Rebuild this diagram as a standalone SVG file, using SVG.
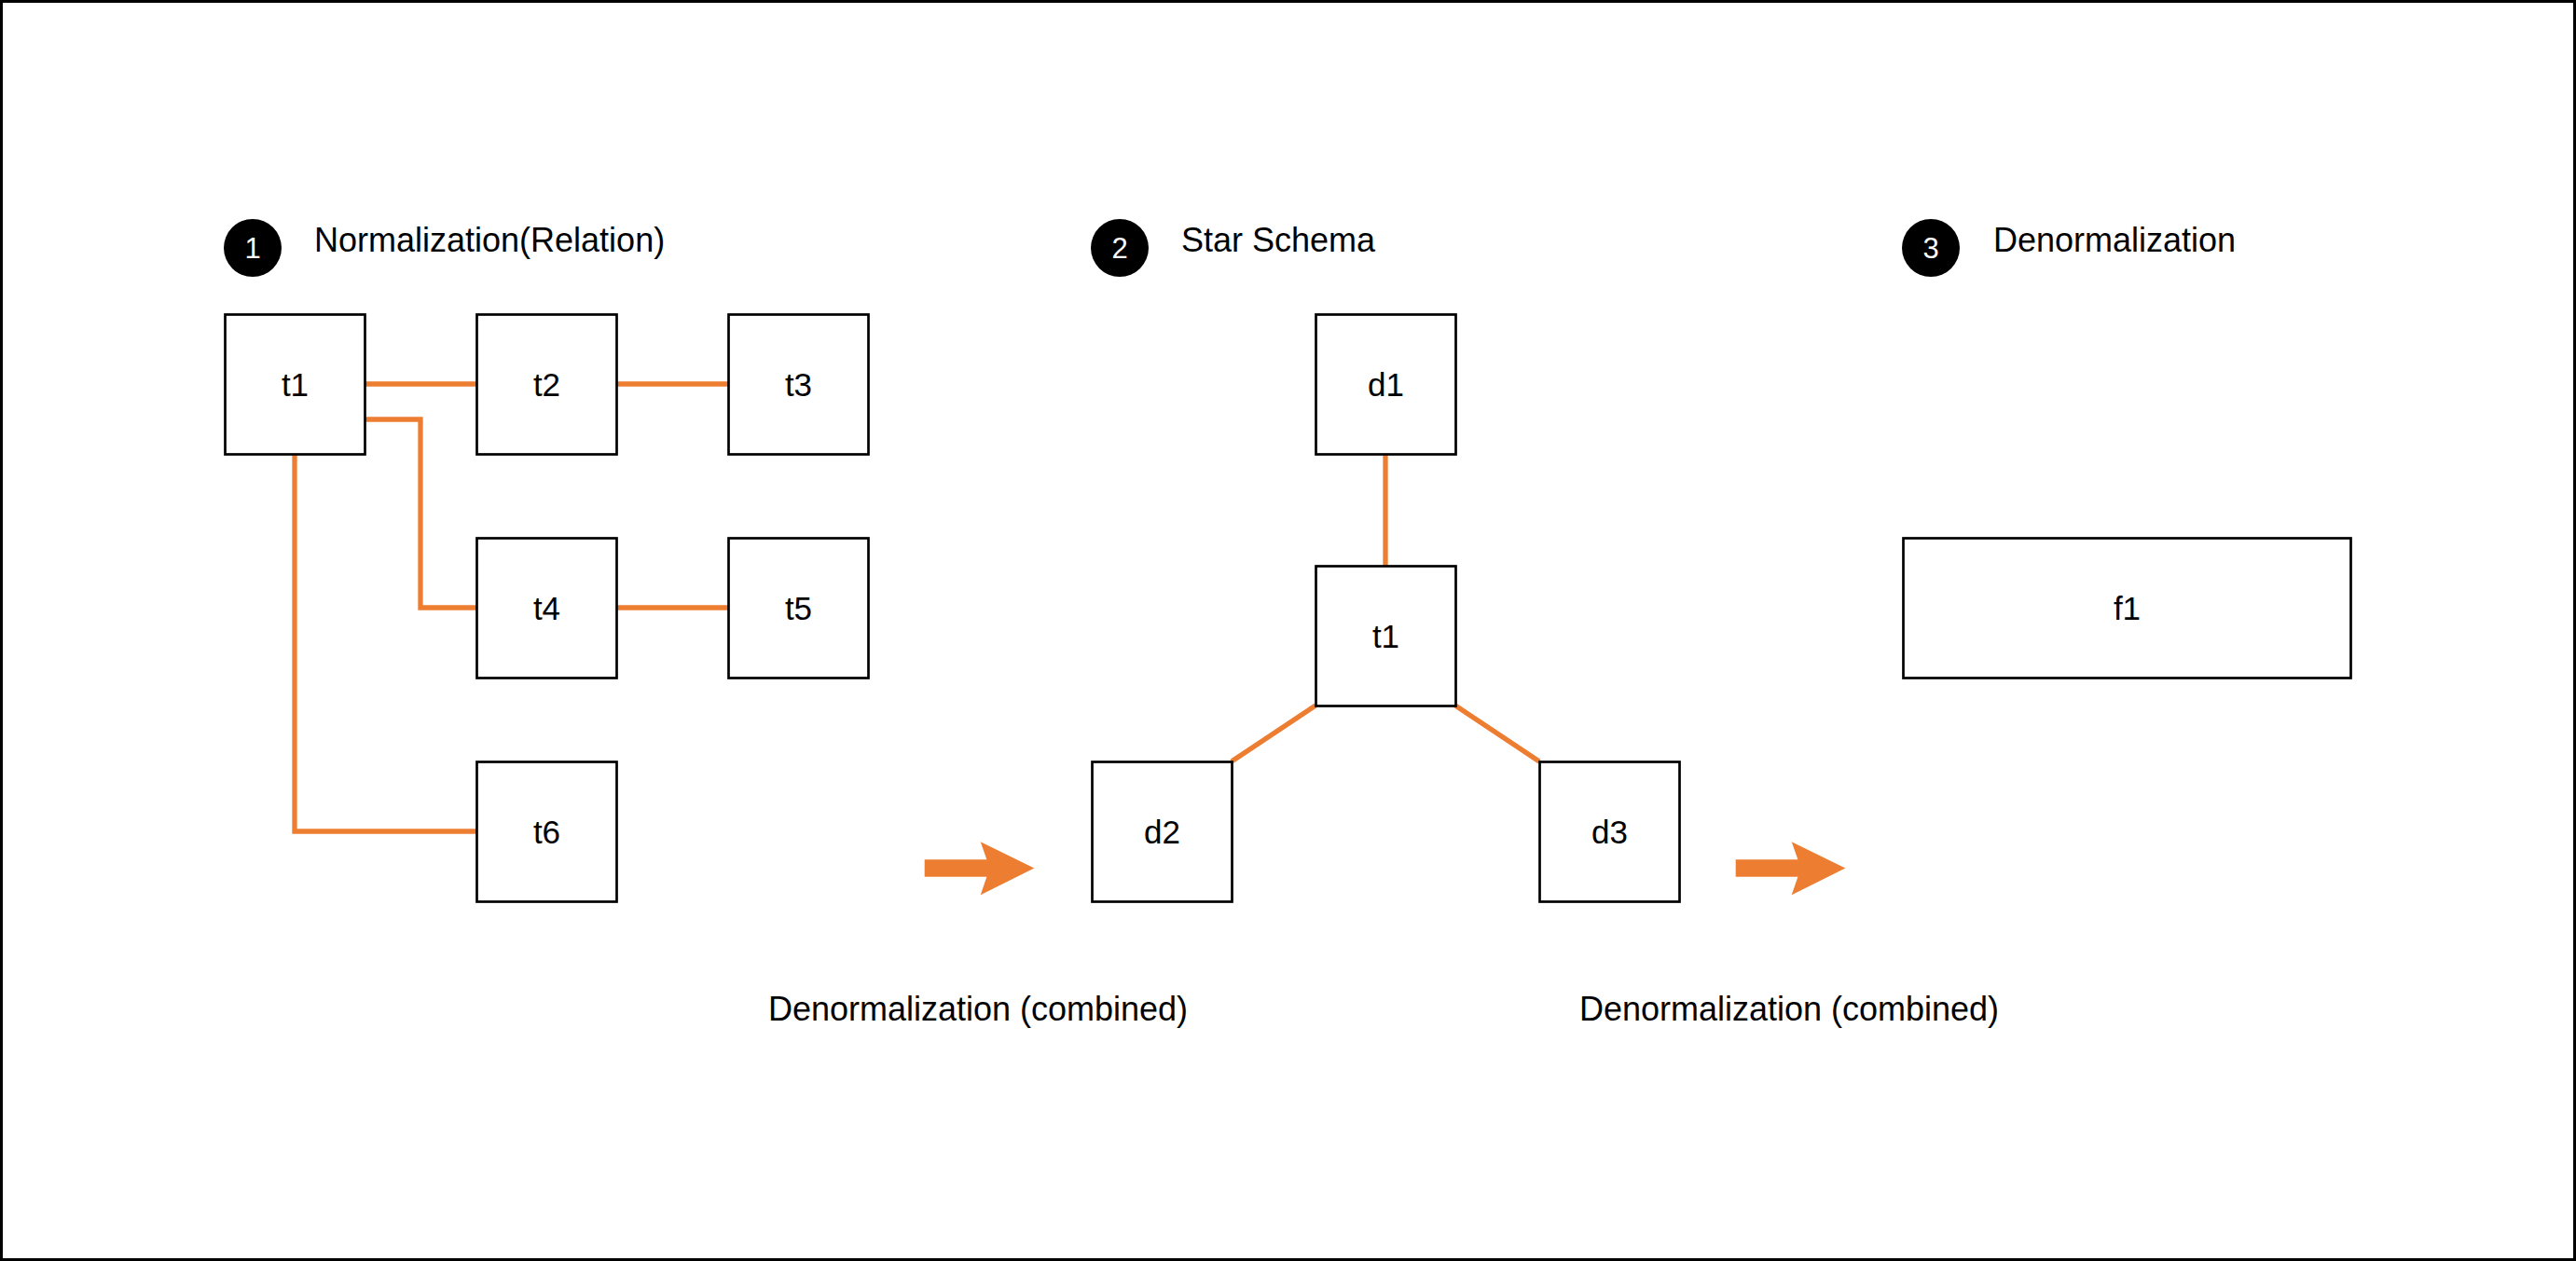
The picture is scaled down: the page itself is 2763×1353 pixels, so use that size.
<svg xmlns="http://www.w3.org/2000/svg" width="2763" height="1353" viewBox="0 0 2763 1353">
<style>
.box{fill:#ffffff;stroke:#000000;stroke-width:2.7}
.lbl{font-family:"Liberation Sans",Arial,Helvetica,sans-serif;font-size:35px;fill:#000000}
.ttl{font-family:"Liberation Sans",Arial,Helvetica,sans-serif;font-size:36px;fill:#000000}
.num{font-family:"Liberation Sans",Arial,Helvetica,sans-serif;font-size:31px;fill:#ffffff;text-anchor:middle}
.dot{fill:#000000}
.link{fill:none;stroke:#ED7D31;stroke-width:5.3}
.big{fill:#ED7D31;stroke:none}
</style>
<rect x="1.5" y="1.5" width="2760" height="1350" fill="#ffffff" stroke="#000000" stroke-width="3"/>

<g id="section1-title">
<circle class="dot" cx="271" cy="266" r="31"/>
<text class="num" x="271" y="276.5">1</text>
<text class="ttl" x="337" y="270">Normalization(Relation)</text>
</g>
<g id="section2-title">
<circle class="dot" cx="1201" cy="266" r="31"/>
<text class="num" x="1201" y="276.5">2</text>
<text class="ttl" x="1267" y="270">Star Schema</text>
</g>
<g id="section3-title">
<circle class="dot" cx="2071" cy="266" r="31"/>
<text class="num" x="2071" y="276.5">3</text>
<text class="ttl" x="2138" y="270">Denormalization</text>
</g>

<g id="connectors">
<polyline class="link" points="391,412 511,412"/>
<polyline class="link" points="661,412 781,412"/>
<polyline class="link" points="391,450 451,450 451,652 511,652"/>
<polyline class="link" points="661,652 781,652"/>
<polyline class="link" points="316,487 316,892 511,892"/>
<polyline class="link" points="1486,487 1486,607"/>
<polyline class="link" points="1411,757 1321,817"/>
<polyline class="link" points="1561,757 1651,817"/>
<polygon class="big" points="991.7,922.3 1058.4,922.3 1051.7,903.3 1109.3,931.5 1051.7,960.3 1058.4,940.7 991.7,940.7"/>
<polygon class="big" points="1861.7,922.3 1928.4,922.3 1921.7,903.3 1979.3,931.5 1921.7,960.3 1928.4,940.7 1861.7,940.7"/>
</g>

<g id="n-t1"><rect class="box" x="241.5" y="337.5" width="150" height="150"/><text class="lbl" x="316.5" y="425" text-anchor="middle">t1</text></g>
<g id="n-t2"><rect class="box" x="511.5" y="337.5" width="150" height="150"/><text class="lbl" x="586.5" y="425" text-anchor="middle">t2</text></g>
<g id="n-t3"><rect class="box" x="781.5" y="337.5" width="150" height="150"/><text class="lbl" x="856.5" y="425" text-anchor="middle">t3</text></g>
<g id="n-t4"><rect class="box" x="511.5" y="577.5" width="150" height="150"/><text class="lbl" x="586.5" y="665" text-anchor="middle">t4</text></g>
<g id="n-t5"><rect class="box" x="781.5" y="577.5" width="150" height="150"/><text class="lbl" x="856.5" y="665" text-anchor="middle">t5</text></g>
<g id="n-t6"><rect class="box" x="511.5" y="817.5" width="150" height="150"/><text class="lbl" x="586.5" y="905" text-anchor="middle">t6</text></g>

<g id="n-d1"><rect class="box" x="1411.5" y="337.5" width="150" height="150"/><text class="lbl" x="1486.5" y="425" text-anchor="middle">d1</text></g>
<g id="n-star-t1"><rect class="box" x="1411.5" y="607.5" width="150" height="150"/><text class="lbl" x="1486.5" y="695" text-anchor="middle">t1</text></g>
<g id="n-d2"><rect class="box" x="1171.5" y="817.5" width="150" height="150"/><text class="lbl" x="1246.5" y="905" text-anchor="middle">d2</text></g>
<g id="n-d3"><rect class="box" x="1651.5" y="817.5" width="150" height="150"/><text class="lbl" x="1726.5" y="905" text-anchor="middle">d3</text></g>

<g id="n-f1"><rect class="box" x="2041.5" y="577.5" width="480" height="150"/><text class="lbl" x="2281.5" y="665" text-anchor="middle">f1</text></g>

<g id="label-arrow1"><text class="ttl" x="1049" y="1095" text-anchor="middle">Denormalization (combined)</text></g>
<g id="label-arrow2"><text class="ttl" x="1919" y="1095" text-anchor="middle">Denormalization (combined)</text></g>
</svg>
